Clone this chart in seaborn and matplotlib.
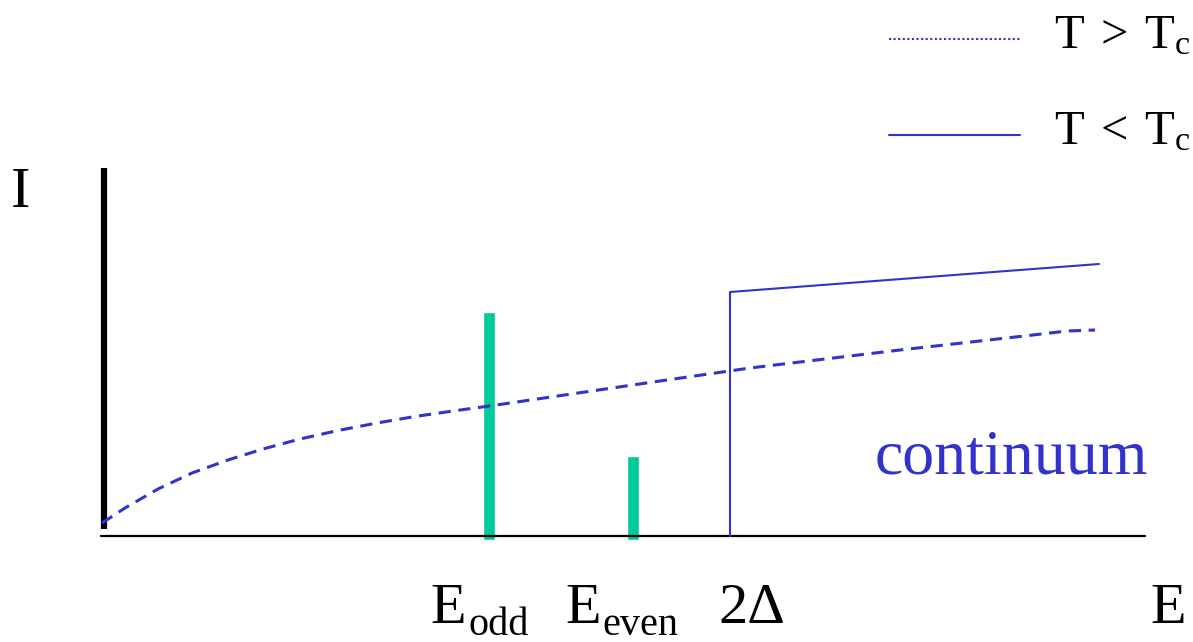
import matplotlib
matplotlib.use("Agg")
import matplotlib.pyplot as plt
from matplotlib.lines import Line2D
from matplotlib.legend_handler import HandlerLine2D
import numpy as np
import seaborn as sns
import pandas as pd

sns.set_theme(style="white")
plt.rcParams["font.family"] = ["Liberation Serif", "DejaVu Serif"]
plt.rcParams["mathtext.fontset"] = "custom"
plt.rcParams["mathtext.rm"] = "Liberation Serif"
plt.rcParams["mathtext.it"] = "Liberation Serif:italic"
plt.rcParams["text.color"] = "black"

BLUE = "#3333CC"
GREEN = "#00CC99"

# ---- data (arbitrary units: energy E, intensity I) ----
level_names = ["odd", "even"]
level_E = [3.89, 5.33]
level_I = [2.24, 0.80]

gap_E = 6.30
solid_E = [6.30, 6.30, 9.99]          # T < Tc spectrum
solid_I = [0.0, 2.44, 2.72]

dashed_E = [0.02, 0.25, 0.58, 0.92, 1.28, 1.63, 2.00, 2.38, 2.77, 3.15, 3.53, 3.93,
            5.60, 6.50, 8.00, 9.33, 9.67, 9.95]   # T > Tc
dashed_I = [0.13, 0.28, 0.47, 0.63, 0.76, 0.87, 0.97, 1.055, 1.13, 1.195, 1.25, 1.305,
            1.55, 1.68, 1.86, 2.01, 2.05, 2.06]

yaxis_top = 3.68
xaxis_end = 10.45
bar_bottom = -0.04

legend_labels = [r"$\mathrm{T}\;>\;\mathrm{T_c}$", r"$\mathrm{T}\;<\;\mathrm{T_c}$"]


class ShiftedLineHandler(HandlerLine2D):
    """Draw the legend line a little below the text centre."""
    def __init__(self, shift, **kw):
        super().__init__(**kw)
        self.shift = shift

    def create_artists(self, legend, orig_handle, xdescent, ydescent, width, height,
                       fontsize, trans):
        artists = super().create_artists(legend, orig_handle, xdescent, ydescent,
                                         width, height, fontsize, trans)
        for a in artists:
            if isinstance(a, Line2D):
                a.set_ydata(np.asarray(a.get_ydata(), dtype=float) - self.shift)
        return artists


# ---- figure ----
fig = plt.figure(figsize=(11.93, 6.42), dpi=100)
ax = fig.add_axes([0, 0, 1, 1])
ax.set_xlim(-1.0, 10.93)
ax.set_ylim(-1.06, 5.36)
ax.axis("off")

# axes of the schematic
ax.plot([0.035, 0.035], [0.07, yaxis_top], color="black", lw=4.5, solid_capstyle="butt", zorder=3)
ax.plot([0.01, xaxis_end], [0, 0], color="black", lw=1.6, zorder=3)

# discrete levels
ax.bar(level_E, [v - bar_bottom for v in level_I], width=0.12, bottom=bar_bottom,
       color=GREEN, zorder=2)

# T > Tc (dashed)
df_d = pd.DataFrame({"E": dashed_E, "I": dashed_I})
sns.lineplot(data=df_d, x="E", y="I", ax=ax, color=BLUE, lw=2.2,
             estimator=None, sort=False, zorder=4)
ax.lines[-1].set_dashes((4, 2.5))

# T < Tc (solid)
df_s = pd.DataFrame({"E": solid_E, "I": solid_I})
sns.lineplot(data=df_s, x="E", y="I", ax=ax, color=BLUE, lw=1.5,
             estimator=None, sort=False, zorder=4)

# labels
fs = 42
sub_fs = 29
base_y = -0.87
sub_y = -0.99
ax.text(-0.89, 3.29, "I", fontsize=fs, ha="left", va="baseline")
for x_main, x_sub, name in zip([3.30, 4.65], [3.68, 5.02], level_names):
    ax.text(x_main, base_y, "E", fontsize=fs, ha="left", va="baseline")
    ax.text(x_sub, sub_y, name, fontsize=sub_fs, ha="left", va="baseline")
ax.text(6.18, base_y, "2Δ", fontsize=fs, ha="left", va="baseline")
ax.text(10.50, base_y, "E", fontsize=fs, ha="left", va="baseline")
ax.text(7.75, 0.63, "continuum", fontsize=46, color=BLUE, ha="left", va="baseline")

# legend
handles = [Line2D([], [], color=BLUE, lw=1.5, dashes=(1, 1.2)),
           Line2D([], [], color=BLUE, lw=1.5)]
hmap = {h: ShiftedLineHandler(6.0) for h in handles}
leg = ax.legend(handles, legend_labels, loc="upper left", handler_map=hmap,
                bbox_to_anchor=(889 / 1193, 1 - 14 / 642), bbox_transform=fig.transFigure,
                frameon=False, fontsize=35, handlelength=2.7, handletextpad=0.7,
                labelspacing=1.07, borderpad=0, borderaxespad=0)

fig.savefig("out.png", dpi=100)
